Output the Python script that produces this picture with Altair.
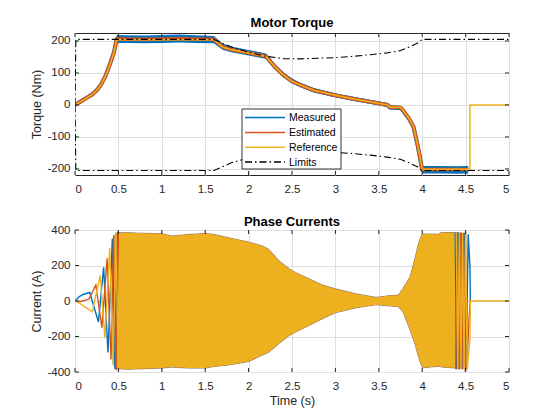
import altair as alt
import pandas as pd

BLUE = "#0072BD"
ORANGE = "#D95319"
YELLOW = "#EDB120"
INK = "#262626"
FONT = "Liberation Sans"

titles = ["Motor Torque", "Phase Currents"]

# ---------------- Motor torque (Nm) ----------------
t_ref = [0, 0.1, 0.2, 0.25, 0.3, 0.35, 0.4, 0.45, 0.48, 1.6, 1.7, 1.8, 2.0, 2.2, 2.3, 2.4, 2.5,
         2.6, 2.75, 3.0, 3.25, 3.5, 3.6, 3.63, 3.75, 3.78, 3.85, 3.9, 3.95, 4.0, 4.55, 4.55, 5.0]
ref = [0, 16, 33, 45, 64, 89, 125, 165, 204, 204, 181, 173, 163, 152, 120, 94, 74,
       62, 46, 30, 17, 5, 0, -7, -7, -17, -43, -68, -129, -201, -201, 0, 0]

t_meas = [0, 0.1, 0.2, 0.25, 0.3, 0.35, 0.4, 0.45, 0.48, 0.6, 0.8, 1.0, 1.2, 1.4, 1.6, 1.7, 1.8,
          2.0, 2.2, 2.3, 2.4, 2.5, 2.6, 2.75, 3.0, 3.25, 3.5, 3.6, 3.63, 3.75, 3.78, 3.85, 3.9,
          3.95, 4.0, 4.2, 4.4, 4.53]
meas = [0, 17, 33, 46, 64, 90, 126, 166, 206, 206, 205, 206, 208, 206, 205, 183, 174,
        164, 153, 120, 94, 75, 62, 46, 30, 17, 5, 0, -8, -9, -18, -44, -69,
        -130, -203, -203, -204, -203]
meas_hi = [3, 22, 39, 52, 71, 97, 133, 174, 219, 218, 217, 219, 220, 218, 216, 192, 183,
           172, 161, 128, 102, 83, 69, 53, 36, 23, 11, 6, -2, -3, -10, -36, -61,
           -121, -191, -191, -192, -191]
meas_lo = [-3, 12, 27, 40, 57, 83, 119, 158, 194, 194, 193, 194, 195, 194, 193, 173, 165,
           155, 144, 112, 86, 67, 55, 39, 24, 11, -1, -6, -14, -16, -26, -52, -77,
           -139, -214, -214, -215, -214]
est = [0, 16, 33, 45, 64, 89, 125, 165, 206, 206, 205, 206, 207, 206, 205, 182, 173,
       163, 152, 120, 94, 74, 62, 46, 30, 17, 5, 0, -7, -8, -17, -43, -68,
       -129, -202, -202, -202, -202]

t_lim = [0, 0.01, 1.6, 1.8, 2.0, 2.2, 2.4, 2.6, 2.8, 3.0, 3.2, 3.4, 3.6, 3.75, 3.85, 3.95, 4.0, 5.0]
lim_hi = [0, 205, 205, 181, 165, 152, 145, 144, 146, 148, 152, 157, 163, 170, 181, 194, 205, 205]
lim_lo = [0, -205, -205, -181, -165, -152, -145, -144, -146, -148, -152, -157, -163, -170, -181,
          -194, -205, -205]

series_names = ["Measured", "Estimated", "Reference", "Limits"]
series_colors = [BLUE, ORANGE, YELLOW, "#000000"]
series_dash = [[1, 0], [1, 0], [1, 0], [7, 3, 1.5, 3]]

# ---------------- Phase currents (A) ----------------
# envelope of the dense three-phase oscillation
t_env = [0.44, 0.47, 0.50, 0.62, 1.0, 1.12, 1.31, 1.5, 1.6, 1.77, 2.0, 2.16, 2.23, 2.35, 2.47,
         2.54, 2.70, 2.85, 3.0, 3.24, 3.47, 3.61, 3.725, 3.78, 3.80, 3.86, 3.92, 3.955, 3.995,
         4.01, 4.19, 4.22, 4.4, 4.45]
env_hi = [350, 380, 384, 384, 379, 366, 375, 380, 375, 356, 332, 310, 291, 226, 180,
          161, 124, 90, 68, 40, 20, 29, 33, 70, 88, 135, 246, 320, 373,
          378, 376, 386, 385, 382]
env_lo = [-350, -380, -382, -384, -378, -372, -378, -378, -369, -360, -341, -304, -289, -239, -193,
          -174, -137, -100, -66, -38, -21, -27, -32, -60, -88, -162, -246, -311, -367,
          -376, -367, -372, -378, -376]

# individual extrema at start-up (low electrical frequency)
ia_t = [0, 0.05, 0.10, 0.17, 0.27, 0.33, 0.38, 0.43, 0.46, 0.49]
ia_v = [0, 25, 38, 48, -118, 190, -290, 350, -385, 390]
ib_t = [0, 0.06, 0.12, 0.16, 0.24, 0.31, 0.37, 0.415, 0.445, 0.475, 0.50]
ib_v = [0, -3, 5, 10, 90, -150, 240, -330, 370, -390, 390]
ic_t = [0, 0.05, 0.12, 0.20, 0.29, 0.345, 0.40, 0.44, 0.47, 0.50]
ic_v = [0, -12, -35, -60, 144, -210, 300, -360, 385, -390]

# extrema at the end of braking
ia_e_t = [4.38, 4.398, 4.416, 4.434, 4.452, 4.47, 4.488, 4.506, 4.53, 4.55, 4.555]
ia_e_v = [385, -385, 385, -385, 385, -385, 385, -385, 376, 190, 0]
ib_e_t = [4.386, 4.404, 4.422, 4.44, 4.458, 4.476, 4.494, 4.512, 4.54, 4.555]
ib_e_v = [-385, 385, -385, 385, -385, 385, -385, -370, -100, 10]
ic_e_t = [4.392, 4.41, 4.428, 4.446, 4.464, 4.482, 4.50, 4.518, 4.55, 4.555, 5.0]
ic_e_v = [385, -385, 385, -385, 385, -385, 385, -385, -218, 0, 0]

x_ticks = [0, 0.5, 1, 1.5, 2, 2.5, 3, 3.5, 4, 4.5, 5]
y_ticks_top = [-200, -100, 0, 100, 200]
y_ticks_bot = [-400, -200, 0, 200, 400]

W, H = 434, 142
TL = 4  # inward tick length
# legend box geometry (pixels inside the top plot)
LX, LY, LW, LH = 167, 76, 99, 60
ROW0, ROW = 8.6, 14.8


def frame(ts, vs, series, part="a"):
    return pd.DataFrame({"t": ts, "v": vs, "series": series, "part": part, "i": list(range(len(ts)))})


xs = alt.Scale(domain=[0, 5], nice=False, zero=False)
ys_top = alt.Scale(domain=[-219, 225], nice=False, zero=False)
ys_bot = alt.Scale(domain=[-400, 400], nice=False, zero=False)

lab = "toString(datum.value)"
x_axis_top = alt.Axis(values=x_ticks, labelExpr=lab, title=None)
x_axis_bot = alt.Axis(values=x_ticks, labelExpr=lab, title="Time (s)")
y_axis_top = alt.Axis(values=y_ticks_top, labelExpr=lab, title="Torque (Nm)")
y_axis_bot = alt.Axis(values=y_ticks_bot, labelExpr=lab, title="Current (A)")


def tick_layers(yscale, yaxis, xaxis, yticks):
    xt = pd.DataFrame({"t": x_ticks})
    yt = pd.DataFrame({"v": yticks})
    X = alt.X("t:Q", scale=xs, axis=xaxis)
    Y = alt.Y("v:Q", scale=yscale, axis=yaxis)
    b = alt.Chart(xt).mark_rule(color=INK, strokeWidth=1).encode(x=X, y=alt.value(H), y2=alt.value(H - TL))
    t = alt.Chart(xt).mark_rule(color=INK, strokeWidth=1).encode(x=X, y=alt.value(0), y2=alt.value(TL))
    l = alt.Chart(yt).mark_rule(color=INK, strokeWidth=1).encode(y=Y, x=alt.value(0), x2=alt.value(TL))
    r = alt.Chart(yt).mark_rule(color=INK, strokeWidth=1).encode(y=Y, x=alt.value(W), x2=alt.value(W - TL))
    return [b, t, l, r]


def title_layer(text, dy):
    return alt.Chart(pd.DataFrame({"title": [text]})).mark_text(
        font=FONT, fontSize=13, fontWeight="bold", color="#000", align="center", baseline="alphabetic"
    ).encode(x=alt.value(W / 2), y=alt.value(dy), text="title:N")


# ----- top panel -----
Xt = alt.X("t:Q", scale=xs, axis=x_axis_top)
Yt = alt.Y("v:Q", scale=ys_top, axis=y_axis_top)
d_meas = frame(t_meas, meas, "Measured")
d_meas_band = pd.DataFrame({"t": t_meas, "v": meas_hi, "lo": meas_lo})
d_est = frame(t_meas, est, "Estimated")
d_ref = frame(t_ref, ref, "Reference")
d_lim = pd.concat([frame(t_lim, lim_hi, "Limits", "hi"), frame(t_lim, lim_lo, "Limits", "lo")])


def torque_line(df, w, k):
    return alt.Chart(df).mark_line(strokeWidth=w, clip=True, strokeJoin="round",
                                   color=series_colors[k], strokeDash=series_dash[k]).encode(
        x=Xt, y=Yt, detail="part:N", order="i:Q")


def legend_layers():
    box = alt.Chart(pd.DataFrame({"k": [0]})).mark_rect(fill="white", stroke="#000", strokeWidth=0.8).encode(
        x=alt.value(LX), x2=alt.value(LX + LW), y=alt.value(LY), y2=alt.value(LY + LH))
    out = [box]
    for k, name in enumerate(series_names):
        yy = LY + ROW0 + k * ROW
        d = pd.DataFrame({"name": [name]})
        out.append(alt.Chart(d).mark_rule(color=series_colors[k], strokeDash=series_dash[k], strokeWidth=1.5).encode(
            x=alt.value(LX + 3), x2=alt.value(LX + 43), y=alt.value(yy)))
        out.append(alt.Chart(d).mark_text(align="left", baseline="middle", font=FONT, fontSize=10.5,
                                          color="#000").encode(
            x=alt.value(LX + 47), y=alt.value(yy + 0.5), text="name:N"))
    return out


meas_band = alt.Chart(d_meas_band).mark_area(color=BLUE, clip=True).encode(x=Xt, y=Yt, y2="lo:Q")

top = alt.layer(
    meas_band,
    torque_line(d_meas, 4.0, 0),
    torque_line(d_est, 3.6, 1),
    torque_line(d_ref, 1.5, 2),
    torque_line(d_lim, 1.1, 3),
    *tick_layers(ys_top, y_axis_top, x_axis_top, y_ticks_top),
    *legend_layers(),
    title_layer(titles[0], -6),
).properties(width=W, height=H)

# ----- bottom panel -----
Xb = alt.X("t:Q", scale=xs, axis=x_axis_bot)
Yb = alt.Y("v:Q", scale=ys_bot, axis=y_axis_bot)
d_env = pd.DataFrame({"t": t_env, "v": env_hi, "lo": env_lo})


def env_area(color, sw, so):
    return alt.Chart(d_env).mark_area(color=color, stroke=color, strokeWidth=sw, strokeOpacity=so,
                                      clip=True).encode(x=Xb, y=Yb, y2="lo:Q")


def phase_line(color, t1, v1, t2, v2):
    df = pd.concat([frame(t1, v1, "p", "start"), frame(t2, v2, "p", "end")])
    return alt.Chart(df).mark_line(color=color, strokeWidth=1.4, clip=True).encode(
        x=Xb, y=Yb, detail="part:N", order="i:Q")


bottom = alt.layer(
    env_area(BLUE, 1.2, 0.4),
    env_area(ORANGE, 0.8, 0.4),
    env_area(YELLOW, 0, 0),
    phase_line(BLUE, ia_t, ia_v, ia_e_t, ia_e_v),
    phase_line(ORANGE, ib_t, ib_v, ib_e_t, ib_e_v),
    phase_line(YELLOW, ic_t, ic_v, ic_e_t, ic_e_v),
    *tick_layers(ys_bot, y_axis_bot, x_axis_bot, y_ticks_bot),
    title_layer(titles[1], -4),
).properties(width=W, height=H)

chart = alt.vconcat(top, bottom, spacing=20).properties(
    padding={"left": 22, "top": 8, "right": 5, "bottom": 0}
).configure_view(stroke=INK, strokeWidth=1).configure_axis(
    grid=True, gridColor="#DFDFDF", gridWidth=1, domain=False, ticks=False,
    labelFont=FONT, labelFontSize=11.5, labelColor=INK,
    titleFont=FONT, titleFontSize=12.5, titleFontWeight="normal", titleColor=INK,
).configure_axisX(labelPadding=8, titlePadding=3).configure_axisY(labelPadding=5, titlePadding=3)

chart.save("out.html", embed_options={"renderer": "svg", "actions": False})
